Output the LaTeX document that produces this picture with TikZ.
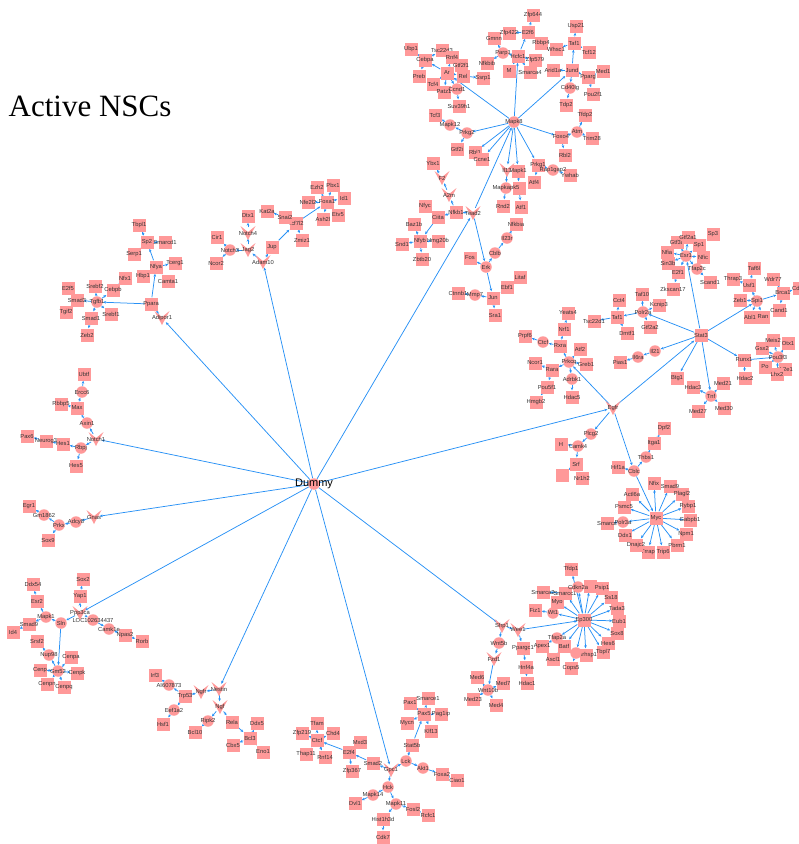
\documentclass[tikz,border=0pt]{standalone}
\usepackage{fontspec}
\setmainfont{Liberation Sans}
\newfontfamily\titlefont{Liberation Serif}
\usetikzlibrary{arrows.meta,backgrounds}
\definecolor{nodepink}{RGB}{255,153,153}
\definecolor{edgeblue}{RGB}{40,145,245}

\begin{document}
\begin{tikzpicture}[x=1pt,y=-1pt,
  lbl/.style={font=\fontsize{5.8}{6}\selectfont,text=black!80,inner sep=0pt},
  sq node/.style={rectangle,fill=nodepink,minimum size=13pt,inner sep=0pt},
  ci node/.style={circle,fill=nodepink,minimum size=11.5pt,inner sep=0pt},
  v node/.style={circle,minimum size=11pt,inner sep=0pt},
  conn/.style={draw=edgeblue,line width=0.75pt,-{Stealth[length=3pt,width=2.6pt]}}]
  \useasboundingbox (0,0) rectangle (799,844);

  \node[font=\titlefont\fontsize{31}{36}\selectfont] (title) at (90,106) {Active NSCs};
  \node[ci node,label={[font=\fontsize{11}{12}\selectfont]center:Dummy}] (dummy) at (314,484) {};

  \foreach \n/\x/\y/\t in {ar/447/73/Ar, cebpa/425/60/Cebpa, ubp1/411/49/Ubp1, tsc/442/50/Tsc22d3,
    rnf4/452/57/Rnf4, gtf2f1/461/65/Gtf2f1, rel/463/76/Rel, ssrp1/483/78/Ssrp1, preb/419/76/Preb,
    tcf4/433/84/Tcf4, patz1/444/92/Patz1, suv/459/106/Suv39h1, hcfc/518/56/Hcfc1, gmnn/494/38/Gmnn,
    nfkbib/487/63/Nfkbib, mm/509/71/M, smarca4/530/72/Smarca4, zfp579/535/60/Zfp579, e2f6/528/32/E2f6,
    zfp422/509/33/Zfp422, zfp644/533/15/Zfp644, rbbp4/541/43/Rbbp4, jund/572/70/Jund, arid1a/553/70/Arid1a,
    taf1m/574/43/Taf1, usp21/576/26/Usp21, whsc1/556/49/Whsc1, tcf12/589/52/Tcf12, pparg/588/77/Pparg,
    med1/603/71/Med1, pou2f1/593/94/Pou2f1, tdp2/566/105/Tdp2, foxo4/561/137/Foxo4, tfdp2/585/115/Tfdp2,
    trim28/592/138/Trim28, rbl2/565/155/Rbl2, tcf3/435/115/Tcf3, gtf2i/457/149/Gtf2i, rbl1/475/152/Rbl1,
    ccne1/482/159/Ccne1, prkg1/538/165/Prkg1, ywhab/570/175/Ywhab, atf4/534/182/Atf4, mapk1b/518/171/Mapk1,
    elk/519/188/, rnd2/503/206/Rnd2, atf1/521/207/Atf1,
    nfkb1/456/212/Nfkb1, ciita/438/217/Ciita, nfyc/425/206/Nfyc, ybx1/433/163/Ybx1, nfyb/420/241/Nfyb,
    hmg20b/438/241/Hmg20b, baz1b/414/224/Baz1b, snd1/402/244/Snd1, zbtb20/422/259/Zbtb20, fos/470/258/Fos,
    nfkbia/516/224/Nfkbia, jun/493/298/Jun, ctnnb1/458/293/Ctnnb1, ebf1/507/287/Ebf1, litaf/520/277/Litaf,
    sra1/495/315/Sra1,
    ppara/151/304/Ppara, smad3/77/300/Smad3, e2f5/68/288/E2f5, tgif2/66/312/Tgif2, srebf2/95/286/Srebf2,
    cebpb/113/290/Cebpb, nfx1/125/278/Nfx1, smad1/91/318/Smad1, srebf1/111/314/Srebf1, zeb2/87/335/Zeb2,
    nfya/156/267/Nfya, tbpl1/139/225/Tbpl1, sp2/147/242/Sp2, smarcd1/165/242/Smarcd1, serp1/134/254/Serp1,
    hbp1/143/276/Hbp1, tcerg1/175/263/Tcerg1, camta1/168/281/Camta1, cir1/217/237/Cir1, ncor2/216/263/Ncor2,
    dtx1/248/216/Dtx1, jup/272/247/Jup, tcf7l2/296/223/Tcf7l2, snai2/285/217/Snai2, kat2a/267/211/Kat2a,
    zmiz1/302/240/Zmiz1, foxa1/327/202/Foxa1, nfe2l2/308/202/Nfe2l2, ezh2/317/187/Ezh2, pbx1/333/185/Pbx1,
    id1/344/198/Id1, etv5/338/215/Etv5, ash2l/323/219/Ash2l,
    stat3/701/335/Stat3, gtf3a/677/242/Gtf3a, nfia/667/252/Nfia, gtf2a1/688/237/Gtf2a1, sp1/699/245/Sp1,
    sp3/713/234/Sp3, nfic/703/257/Nfic, sin3b/668/263/Sin3b, e2f1/678/272/E2f1, zkscan17/673/289/Zkscan17,
    scand1/710/282/Scand1, usf1/749/285/Usf1, taf6l/754/268/Taf6l, thrap3/733/279/Thrap3, zeb1/740/300/Zeb1,
    abl1/750/317/Abl1, ran/763/317/Ran, brca1/783/293/Brca1, wdr77/773/279/Wdr77, cdc/799/288/Cdk2,
    cand1/779/310/Cand1, runx1/744/360/Runx1, hdac2/745/378/Hdac2, meis2/773/340/Meis2, otx1/788/343/Otx1,
    gsx2/762/348/Gsx2, po/765/367/Po, nr2e1/785/369/Nr2e1, lhx2/777/374/Lhx2, hdac3/693/387/Hdac3,
    med21/723/383/Med21, med27/698/411/Med27, med30/724/408/Med30, btg1/677/378/Btg1, pias1/620/362/Pias1,
    kcnip3/659/305/Kcnip3, taf10/642/294/Taf10, gtf2a2/650/327/Gtf2a2, taf1p/617/317/Taf1, cct4/619/300/Cct4,
    tsc22d1/594/321/Tsc22d1, dmtf1/627/333/Dmtf1,
    rxra/560/346/Rxra, nrf1/564/329/Nrf1, yeats4/568/313/Yeats4, prpf6/525/336/Prpf6, atf2/580/349/Atf2,
    greb1/586/364/Greb1, hdac5/572/397/Hdac5, rara/552/370/Rara, ncor1/535/363/Ncor1, pou5f1/547/387/Pou5f1,
    hmgb2/536/402/Hmgb2, hsq/561/444/H, srf/576/464/Srf, isq/562/475/, nr1h2/582/478/Nr1h2, itga1/654/443/Itga1,
    dpf2/664/428/Dpf2, hif1a/618/467/Hif1a,
    myc/656/518/Myc, nfix/654/483/Nfix, smad9/670/486/Smad9, plagl2/682/494/Plagl2, rybp/688/506/Rybp1,
    gabpb1/690/520/Gabpb1, npm1/686/534/Npm1, pbrm1/677/545/Pbrm1, trip6/663/552/Trip6, trrap/648/552/Trrap,
    dnajc2/636/545/Dnajc2, ddx1/625/535/Ddx1, smarcc/607/523/Smarcc, psmc5/624/507/Psmc5, actl6a/632/494/Actl6a,
    hes1/63/444/Hes1, neurog3/46/441/Neurog3, pax6/27/436/Pax6, hes5/76/466/Hes5, max/77/408/Max,
    rbbp5/61/404/Rbbp5, ubtf/84/374/Ubtf, egr1/29/506/Egr1, sox9/48/540/Sox9,
    npas2/125/635/Npas2, rorb/142/641/Rorb, yap1/80/596/Yap1, sox2/83/579/Sox2, esr2/37/601/Esr2,
    ddx54/33/584/Ddx54, smad9b/29/624/Smad9, id4/13/632/Id4, srsf2/37/641/Srsf2, cenpa/71/657/Cenpa,
    cenpk/77/673/Cenpk, cenpq/64/687/Cenpq, cenpn/47/684/Cenpn, cen/40/670/Cenp,
    trp53/185/696/Trp53, hsf1/163/724/Hsf1, irf3/155/675/Irf3, bcl10/195/732/Bcl10, rela/232/722/Rela,
    bcl3/250/738/Bcl3, ddx5/257/723/Ddx5, cbx5/233/745/Cbx5, eno1/263/752/Eno1,
    smad2/373/763/Smad2, e2f4/349/752/E2f4, mxd3/360/742/Mxd3, zfp367/352/771/Zfp367, ctcfb/317/740/Ctcf,
    tfam/317/723/Tfam, zfp219/302/733/Zfp219, chd4/333/733/Chd4, thap11/306/754/Thap11, rnf14/325/757/Rnf14,
    foxa2/442/774/Foxa2, ciao1/457/780/Ciao1, stat5b/412/745/Stat5b, pax5/424/714/Pax5, pax1/410/703/Pax1,
    smarce1/428/698/Smarce1, pag1ip/441/714/Pag1ip, mycn/407/723/Mycn, klf13/431/731/Klf13, dvl1/355/803/Dvl1,
    fosl2/413/809/Fosl2, rcfc1/428/815/Rcfc1, hist/383/819/Hist1h3d, cdk7/383/837/Cdk7,
    ep300/584/620/Ep300, tfdp1/571/569/Tfdp1, blank/590/586/, psip1/602/588/Psip1, ss18/611/597/Ss18,
    tada3/617/608/Tada3, eub1/619/621/Eub1, sox8/617/633/Sox8, hes6/608/643/Hes6, tbp/603/652/Tbpl7,
    carh/586/655/Carhsp1, cops5/571/668/Cops5, batf/564/646/Batf, ascl1/553/659/Ascl1, apex1/542/646/Apex1,
    fiz1/535/610/Fiz1, myb/557/602/Myb, smarcc1/565/593/Smarcc1, smarca2/543/592/Smarca2,
    ppargc1/523/648/Ppargc1, hnf4a/526/667/Hnf4a, hdac1/527/683/Hdac1, med6/477/677/Med6, med7/503/683/Med7,
    med23/473/699/Med23, med4/496/705/Med4}
    \node[sq node,label={[lbl]center:\t}] (\n) at (\x,\y) {};

  \foreach \n/\x/\y/\t in {mapk8/514/122/Mapk8, ccnd1/457/89/Ccnd1, pan/503/53/Parp1, cd40lg/570/88/Cd40lg,
    atm/577/132/Atm, prkg2/467/133/Prkg2, mapk12/450/125/Mapk12, rap1gap2/553/170/Rap1gap2,
    mapk3/506/188/Mapkapk5, erk/486/267/Erk, cblb/495/253/Cblb, il23r/507/238/Il23r, mmp7/475/295/Mmp7,
    tgfb1/97/302/Tgfb1, notch3/230/250/Notch3,
    esr1/686/256/Esr1, tfap2c/697/269/Tfap2c, spi1/757/301/Spi1, pou3f/778/357/Pou3f3, tnf/711/396/Tnf,
    il21/655/351/Il21, il6ra/638/357/Il6ra, polr2a/643/312/Polr2a,
    prkcq/569/362/Prkcq, ctcfa/543/342/Ctcf, adrbk1/572/379/Adrbk1, plcg2/591/434/Plcg2, camk4/578/446/Camk4,
    thbs1/646/457/Thbs1, cblc/634/471/Cblc, polr3a/623/522/Polr3a,
    rbpj/81/448/Rbpj, axin1/87/423/Axin1, ercc6/82/392/Ercc6, adcy/76/522/Adcy8, prkx/59/525/Prkx,
    gm1862/44/515/Gm1862,
    sln/61/623/Sln, loc/93/620/LOC102634437, camk1e/109/629/Camk1e, mapk1c/46/617/Mapk1, gm/58/671/Gm52,
    nup98/49/655/Nup98,
    ai/169/685/AI607873, eef1a2/174/710/Eef1a2, ripk2/208/721/Ripk2,
    lck/406/761/Lck, akt1/423/768/Akt1, hck/388/787/Hck, mapk14/373/795/Mapk14, mapk11/396/804/Mapk11,
    cdkn2a/578/587/Cdkn2a, anon/576/653/, tfap2a/557/638/Tfap2a, wt1/553/613/Wt1, wnt5b/499/643/Wnt5b,
    wnt10b/488/690/Wnt10b}
    \node[ci node,label={[lbl]center:\t}] (\n) at (\x,\y) {};

  \foreach \n/\x/\y/\t in {il3/507/170/Il13, tead2/473/213/Tead2, a2m/449/195/A2m, f2/442/178/F2,
    adipor1/162/318/Adipor1, adam10/263/262/Adam10, jag2/248/250/Jag2, notch4/248/233/Notch4,
    egfr/613/408/Egfr, notch1/96/439/Notch1, gnas/94/517/Gnas, ppp3ca/80/613/Ppp3ca,
    nestin/219/689/Nestin, ngfr/201/692/Ngfr, ngf/220/707/Ngf, gpc1/391/770/Gpc1,
    wee1/518/630/Wee1, sfrp1/502/626/Sfrp1, fzd1/494/659/Fzd1} {
    \fill[nodepink] (\x-7.5,\y-7) -- (\x,\y-1) -- (\x+7.5,\y-7) -- (\x,\y+7) -- cycle;
    \node[v node,label={[lbl]center:\t}] (\n) at (\x,\y) {};
  }

  \begin{scope}[on background layer]
  \foreach \a/\b in {dummy/tead2, dummy/adam10, dummy/adipor1, dummy/notch1, dummy/gnas, dummy/ppp3ca,
    dummy/nestin, dummy/gpc1, dummy/sfrp1, dummy/egfr, tead2/mapk8,
    mapk8/ar, ar/cebpa, cebpa/ubp1, cebpa/tsc, cebpa/preb, ar/rnf4, ar/gtf2f1, ar/rel, rel/ssrp1, ar/tcf4,
    ar/patz1, ar/ccnd1, ccnd1/suv, mapk8/hcfc, hcfc/e2f6, e2f6/zfp644, e2f6/zfp422, e2f6/rbbp4, hcfc/pan,
    pan/gmnn, pan/nfkbib, hcfc/mm, hcfc/smarca4, hcfc/zfp579, mapk8/jund, jund/arid1a, jund/taf1m,
    taf1m/usp21, taf1m/whsc1, taf1m/tcf12, jund/pparg, pparg/med1, pparg/pou2f1, jund/cd40lg, cd40lg/tdp2,
    mapk8/foxo4, foxo4/atm, atm/tfdp2, atm/trim28, foxo4/rbl2, mapk8/prkg2, prkg2/mapk12, mapk12/tcf3,
    prkg2/gtf2i, mapk8/rbl1, mapk8/ccne1, mapk8/prkg1, prkg1/rap1gap2, rap1gap2/ywhab, prkg1/atf4,
    mapk8/il3, il3/mapk3, mapk3/rnd2, mapk8/mapk1b, mapk1b/elk, elk/atf1,
    tead2/nfkb1, nfkb1/ciita, ciita/nfyc, nfkb1/a2m, a2m/f2, f2/ybx1, ciita/nfyb, nfyb/baz1b, nfyb/snd1,
    nfyb/hmg20b, nfyb/zbtb20, tead2/erk, erk/fos, erk/cblb, cblb/il23r, il23r/nfkbia, erk/jun, jun/mmp7,
    mmp7/ctnnb1, jun/ebf1, ebf1/litaf, jun/sra1,
    adipor1/ppara, ppara/tgfb1, tgfb1/smad3, smad3/e2f5, smad3/tgif2, tgfb1/srebf2, tgfb1/cebpb,
    cebpb/nfx1, tgfb1/smad1, smad1/zeb2, tgfb1/srebf1, ppara/nfya, nfya/sp2, sp2/tbpl1, sp2/smarcd1,
    sp2/serp1, nfya/hbp1, nfya/tcerg1, nfya/camta1,
    adam10/jag2, jag2/notch3, notch3/cir1, notch3/ncor2, jag2/notch4, notch4/dtx1, adam10/jup,
    jup/tcf7l2, tcf7l2/snai2, snai2/kat2a, tcf7l2/zmiz1, tcf7l2/foxa1, foxa1/nfe2l2, foxa1/ezh2,
    foxa1/pbx1, foxa1/id1, foxa1/etv5, foxa1/ash2l,
    egfr/stat3, stat3/esr1, esr1/gtf3a, esr1/nfia, esr1/gtf2a1, esr1/sp1, esr1/nfic, esr1/sin3b,
    esr1/e2f1, esr1/tfap2c, sp1/sp3, e2f1/zkscan17, tfap2c/scand1, stat3/spi1, spi1/usf1, usf1/taf6l,
    usf1/thrap3, spi1/zeb1, spi1/abl1, spi1/ran, spi1/brca1, brca1/wdr77, brca1/cdc, brca1/cand1,
    stat3/runx1, runx1/hdac2, runx1/pou3f, pou3f/meis2, pou3f/otx1, pou3f/gsx2, pou3f/po, pou3f/nr2e1,
    pou3f/lhx2, stat3/tnf, tnf/hdac3, tnf/med21, tnf/med27, tnf/med30, stat3/btg1, stat3/il21,
    il21/il6ra, il6ra/pias1, stat3/polr2a, polr2a/kcnip3, polr2a/taf10, polr2a/gtf2a2, polr2a/taf1p,
    taf1p/cct4, taf1p/tsc22d1, taf1p/dmtf1,
    egfr/prkcq, prkcq/rxra, rxra/nrf1, nrf1/yeats4, rxra/ctcfa, ctcfa/prpf6, prkcq/atf2, prkcq/greb1,
    prkcq/adrbk1, adrbk1/hdac5, prkcq/rara, rara/ncor1, rara/pou5f1, pou5f1/hmgb2, egfr/plcg2,
    plcg2/camk4, camk4/hsq, camk4/srf, srf/isq, srf/nr1h2, egfr/cblc, cblc/thbs1, thbs1/itga1,
    itga1/dpf2, cblc/hif1a, cblc/myc, myc/nfix, myc/smad9, myc/plagl2, myc/rybp, myc/gabpb1, myc/npm1,
    myc/pbrm1, myc/trip6, myc/trrap, myc/dnajc2, myc/ddx1, myc/polr3a, myc/psmc5, myc/actl6a,
    polr3a/smarcc,
    notch1/rbpj, rbpj/hes1, hes1/neurog3, neurog3/pax6, rbpj/hes5, notch1/axin1, axin1/max, max/rbbp5,
    max/ercc6, ercc6/ubtf, gnas/adcy, adcy/prkx, prkx/gm1862, gm1862/egr1, prkx/sox9,
    ppp3ca/yap1, yap1/sox2, ppp3ca/sln, sln/mapk1c, mapk1c/esr2, esr2/ddx54, mapk1c/smad9b, smad9b/id4,
    ppp3ca/loc, loc/camk1e, camk1e/npas2, npas2/rorb, sln/gm, gm/nup98, nup98/srsf2, gm/cenpa, gm/cenpk,
    gm/cenpq, gm/cenpn, gm/cen,
    nestin/ngfr, ngfr/trp53, trp53/ai, ai/irf3, trp53/eef1a2, eef1a2/hsf1, nestin/ngf, ngf/ripk2,
    ripk2/bcl10, ngf/rela, rela/bcl3, bcl3/ddx5, bcl3/cbx5, bcl3/eno1,
    gpc1/smad2, smad2/e2f4, e2f4/mxd3, e2f4/zfp367, e2f4/ctcfb, ctcfb/tfam, ctcfb/zfp219, ctcfb/chd4,
    ctcfb/thap11, ctcfb/rnf14, gpc1/lck, lck/akt1, akt1/foxa2, foxa2/ciao1, lck/stat5b, stat5b/pax5,
    pax5/pax1, pax5/smarce1, pax5/pag1ip, pax5/mycn, pax5/klf13, gpc1/hck, hck/mapk14, mapk14/dvl1,
    hck/mapk11, mapk11/fosl2, fosl2/rcfc1, mapk11/hist, hist/cdk7,
    sfrp1/wee1, wee1/ep300, ep300/tfdp1, ep300/cdkn2a, ep300/blank, ep300/psip1, ep300/ss18, ep300/tada3,
    ep300/eub1, ep300/sox8, ep300/hes6, ep300/tbp, ep300/carh, ep300/anon, ep300/batf, ep300/tfap2a,
    ep300/wt1, ep300/myb, ep300/smarcc1, smarcc1/smarca2, wt1/fiz1, batf/ascl1, tfap2a/apex1, anon/cops5,
    wee1/ppargc1, ppargc1/hnf4a, hnf4a/hdac1, sfrp1/wnt5b, wnt5b/fzd1, fzd1/wnt10b, wnt10b/med6,
    wnt10b/med7, wnt10b/med23, wnt10b/med4}
    \draw[conn] (\a) -- (\b);
  \end{scope}
\end{tikzpicture}
\end{document}
